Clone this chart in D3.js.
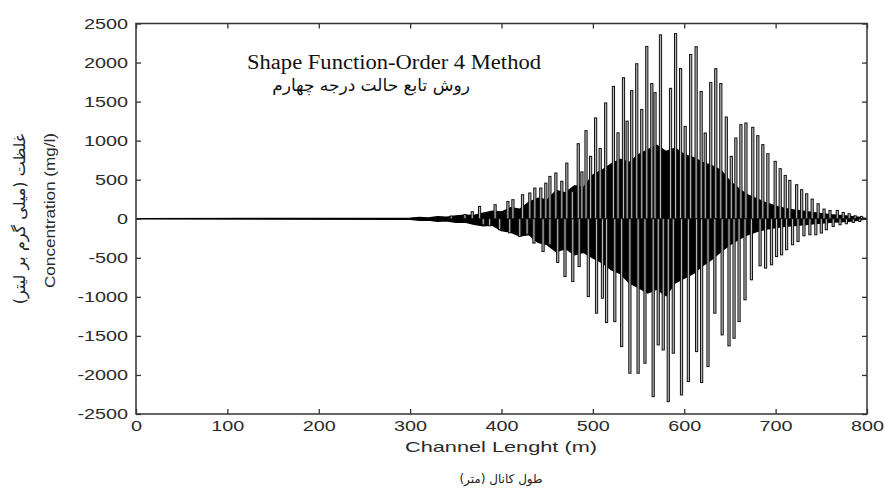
<!DOCTYPE html>
<html>
<head>
<meta charset="utf-8">
<script src="https://cdn.jsdelivr.net/npm/d3@7"></script>
<style>
body { margin: 0; background: #fff; }
</style>
</head>
<body>
<svg id="drawing_region"></svg>
<script>
// tick values
const xTicks = [0, 100, 200, 300, 400, 500, 600, 700, 800];
const yTicks = [-2500, -2000, -1500, -1000, -500, 0, 500, 1000, 1500, 2000, 2500];

// upward spikes (channel position m, concentration mg/l)
const upX = [345, 360, 368, 376, 393, 407, 412.5, 423, 431, 436.5,
    443, 448.5, 453, 459.5, 466, 471.5, 477.5, 484, 488, 492.5,
    497.5, 503, 508, 514, 522.5, 527.5, 533.5, 537.5, 542.5, 548,
    553.5, 559, 564.5, 568, 574, 585, 590.5, 596, 601, 607,
    613, 618.5, 623, 629, 634.5, 640, 646, 651.5, 656.5, 662,
    667.5, 675, 680.5, 686, 691.5, 699.5, 705, 710.5, 715.5, 723,
    728.5, 734, 740, 746.5, 753, 759.5, 767.5, 774, 780.5, 787, 794];
const upY = [35, 55, 90, 158, 180, 222, 244, 308, 330, 393,
    393, 456, 542, 586, 480, 713, 350, 961, 600, 1128,
    799, 1291, 900, 1483, 1695, 1100, 1806, 1250, 1641, 1985,
    1400, 2207, 1731, 1615, 2355, 1670, 2370, 1923, 1183, 2103,
    2203, 1630, 1098, 1745, 1921, 1731, 1303, 799, 1034, 1205,
    1226, 1171, 1064, 949, 833, 735, 641, 555, 491, 436,
    372, 320, 252, 192, 124, 106, 106, 81, 64, 38, 30];

// downward spikes
const downX = [380, 387, 398, 409, 420, 428, 435.5, 445.5, 453, 461.5,
    469.5, 478, 485, 495, 504, 510.5, 515, 524, 531.5, 540.5,
    549.5, 557, 566, 571.5, 577, 582.5, 588, 597, 604.5, 613.5,
    619, 626, 633.5, 641.5, 649, 654.5, 660, 666.5, 673.5, 683,
    689, 695.5, 701, 706.5, 712, 718.5, 724.5, 731, 737.5, 744,
    750, 755.5, 763, 770.5, 777.5, 785, 792];
const downY = [-77, -90, -141, -180, -227, -200, -312, -419, -333, -560,
    -740, -804, -612, -996, -1209, -1017, -1329, -1317, -1637, -1978,
    -1978, -1850, -2278, -1615, -1680, -2342, -1722, -2256, -2085, -1701,
    -2097, -1893, -1209, -1487, -1628, -1530, -1317, -1038, -782, -603,
    -632, -590, -483, -462, -397, -333, -291, -218, -205, -205,
    -183, -141, -99, -77, -64, -47, -35];

// dense oscillation band (upper / lower edge)
const bandX = [0, 300, 310, 320, 330, 340, 350, 360, 370, 380, 390, 400, 410, 420,
    430, 440, 450, 460, 470, 480, 490, 500, 510, 520, 530, 540, 550, 560, 570,
    580, 590, 600, 610, 620, 630, 640, 650, 660, 670, 680, 690, 700, 710, 720,
    730, 740, 750, 760, 770, 780, 790, 800];
const bandTop = [0, 5, 15, 10, 25, 20, 35, 45, 40, 70, 95, 85, 140, 120,
    210, 260, 240, 360, 330, 420, 400, 560, 620, 700, 760, 720, 820, 880, 940,
    860, 900, 820, 780, 720, 680, 620, 480, 380, 300, 250, 200, 160, 130, 110,
    95, 80, 65, 50, 40, 30, 20, 0];
const bandBottom = [0, -5, -20, -15, -30, -25, -45, -40, -70, -90, -80, -150, -170, -220,
    -200, -300, -330, -420, -380, -460, -430, -500, -560, -650, -700, -820, -880, -950, -900,
    -980, -820, -760, -700, -600, -520, -420, -330, -260, -200, -160, -130, -110, -95, -85,
    -75, -65, -55, -45, -38, -30, -20, 0];

class SpikePlot {

    constructor( config ) {
        this.config = config;
        this.init();
    }

    init() {
        let self = this;

        self.svg = d3.select( self.config.parent )
            .attr('width', self.config.width)
            .attr('height', self.config.height);

        self.chart = self.svg.append('g')
            .attr('transform', `translate(${self.config.margin.left}, ${self.config.margin.top})`);

        self.inner_width = self.config.width - self.config.margin.left - self.config.margin.right;
        self.inner_height = self.config.height - self.config.margin.top - self.config.margin.bottom;

        self.xscale = d3.scaleLinear()
            .domain( [0, 800] )
            .range( [0, self.inner_width] );

        self.yscale = d3.scaleLinear()
            .domain( [-2500, 2500] )
            .range( [self.inner_height, 0] );
    }

    render() {
        let self = this;
        const sx = 1.32;
        const fmt = d => String(d);

        // band
        const band = bandX.map( (x, i) => ({x: x, top: bandTop[i], bottom: bandBottom[i]}) );
        self.chart.append('path')
            .datum(band)
            .attr('d', d3.area()
                .x( d => self.xscale(d.x) )
                .y0( d => self.yscale(d.bottom) )
                .y1( d => self.yscale(d.top) ))
            .attr('fill', '#000')
            .attr('stroke', '#000')
            .attr('stroke-width', 1.6);

        // spikes
        const spikes = upX.map( (x, i) => ({x: x, v: upY[i]}) )
            .concat( downX.map( (x, i) => ({x: x, v: downY[i]}) ) );
        self.chart.selectAll('rect.spike')
            .data(spikes)
            .enter()
            .append('rect')
            .attr('class', 'spike')
            .attr('x', d => self.xscale(d.x) - 1.1)
            .attr('width', 2.2)
            .attr('y', d => Math.min( self.yscale(d.v), self.yscale(0) ))
            .attr('height', d => Math.abs( self.yscale(d.v) - self.yscale(0) ))
            .attr('fill', '#b8b8b8')
            .attr('stroke', '#111')
            .attr('stroke-width', 1);

        // frame
        self.chart.append('rect')
            .attr('width', self.inner_width)
            .attr('height', self.inner_height)
            .attr('fill', 'none')
            .attr('stroke', '#333')
            .attr('stroke-width', 1.5);

        // axes
        const left = self.chart.append('g')
            .call( d3.axisLeft(self.yscale).tickValues(yTicks).tickSize(-5).tickPadding(0).tickFormat(fmt) );
        left.selectAll('text')
            .attr('x', -8 / sx)
            .attr('transform', `scale(${sx},1)`);

        const bottom = self.chart.append('g')
            .attr('transform', `translate(0, ${self.inner_height})`)
            .call( d3.axisBottom(self.xscale).tickValues(xTicks).tickSize(-5).tickPadding(0).tickFormat(fmt) );
        bottom.selectAll('text')
            .attr('y', 17.5)
            .attr('dy', 0)
            .attr('transform', `scale(${sx},1)`);

        self.chart.append('g')
            .call( d3.axisTop(self.xscale).tickValues(xTicks).tickSize(-5).tickFormat('') );
        self.chart.append('g')
            .attr('transform', `translate(${self.inner_width}, 0)`)
            .call( d3.axisRight(self.yscale).tickValues(yTicks).tickSize(-5).tickFormat('') );

        self.chart.selectAll('.domain').remove();
        self.chart.selectAll('.tick line').attr('stroke', '#333').attr('stroke-width', 1.3);
        self.chart.selectAll('.tick text')
            .attr('fill', '#2a2a2a')
            .style('font-family', '"Liberation Sans", Arial, sans-serif')
            .style('font-size', '15px');

        // titles
        self.svg.append('text')
            .attr('x', 247)
            .attr('y', 69)
            .attr('textLength', 294)
            .attr('lengthAdjust', 'spacingAndGlyphs')
            .style('font-family', '"Liberation Serif", "Times New Roman", serif')
            .style('font-size', '20px')
            .attr('fill', '#111')
            .text('Shape Function-Order 4 Method');

        self.svg.append('text')
            .attr('x', 371)
            .attr('y', 91)
            .attr('text-anchor', 'middle')
            .attr('direction', 'rtl')
            .style('font-family', '"DejaVu Sans", sans-serif')
            .style('font-size', '17px')
            .attr('fill', '#111')
            .text('روش تابع حالت درجه چهارم');

        // x labels
        self.svg.append('text')
            .attr('x', 405)
            .attr('y', 452)
            .attr('textLength', 192)
            .attr('lengthAdjust', 'spacingAndGlyphs')
            .style('font-family', '"Liberation Sans", Arial, sans-serif')
            .style('font-size', '15px')
            .attr('fill', '#2a2a2a')
            .text('Channel Lenght (m)');

        self.svg.append('text')
            .attr('x', 501)
            .attr('y', 483)
            .attr('text-anchor', 'middle')
            .style('font-family', '"DejaVu Sans", sans-serif')
            .style('font-size', '12px')
            .attr('fill', '#222')
            .text('طول کانال (متر)');

        // y labels
        self.svg.append('text')
            .attr('transform', 'rotate(-90)')
            .attr('x', -288)
            .attr('y', 55)
            .attr('textLength', 155)
            .attr('lengthAdjust', 'spacingAndGlyphs')
            .style('font-family', '"Liberation Sans Narrow", "Liberation Sans", Arial, sans-serif')
            .style('font-size', '15px')
            .attr('fill', '#2a2a2a')
            .text('Concentration (mg/l)');

        self.svg.append('text')
            .attr('transform', 'rotate(-90)')
            .attr('x', -219)
            .attr('y', 25)
            .attr('text-anchor', 'middle')
            .style('font-family', '"DejaVu Sans", sans-serif')
            .style('font-size', '16px')
            .attr('fill', '#222')
            .text('غلظت (میلی گرم بر لیتر)');
    }
}

const plot = new SpikePlot({
    parent: '#drawing_region',
    width: 885,
    height: 491,
    margin: {top: 23.5, right: 18, bottom: 77, left: 136}
});
plot.render();
</script>
</body>
</html>
